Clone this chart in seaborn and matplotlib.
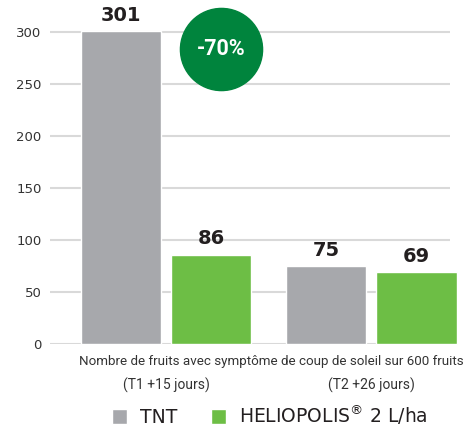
import pandas as pd
import matplotlib.pyplot as plt
import seaborn as sns

periodes = ["(T1 +15 jours)", "(T2 +26 jours)"]
traitements = ["TNT", "HELIOPOLIS$^{®}$ 2 L/ha"]
tnt = [301, 75]
heliopolis = [86, 69]
reduction = "-70%"
titre_x = "Nombre de fruits avec symptôme de coup de soleil sur 600 fruits"

df = pd.DataFrame({
    "periode": periodes * 2,
    "traitement": [traitements[0]] * 2 + [traitements[1]] * 2,
    "valeur": tnt + heliopolis,
})

sns.set_style("white")
plt.rcParams["font.family"] = ["DejaVu Sans"]
plt.rcParams["mathtext.default"] = "regular"
narrow = ["Roboto", "DejaVu Sans"]

fig = plt.figure(figsize=(4.75, 4.30), dpi=100)
ax = fig.add_axes([50 / 475, 86 / 430, 400 / 475, 322.4 / 430])

palette = {traitements[0]: "#a7a8ac", traitements[1]: "#6dbe45"}
sns.barplot(data=df, x="periode", y="valeur", hue="traitement", palette=palette,
            width=0.878, gap=0.11, saturation=1, ax=ax, legend=True, zorder=3)
for p in ax.patches:
    p.set_clip_on(False)

ax.set_xlim(-0.566, 1.383)
ax.set_ylim(0, 310)
ax.set_yticks(range(0, 301, 50))
ax.set_yticklabels([str(v) for v in range(0, 301, 50)], fontsize=9.5, color="#333333")
ax.tick_params(axis="y", length=0, pad=6)
for v in range(0, 301, 50):
    ax.axhline(v, color="#d9d9d9", lw=1.5, zorder=1)
for s in ax.spines.values():
    s.set_visible(False)
ax.set_ylabel("")

# étiquettes de valeur
for cont in ax.containers:
    for bar in cont:
        h = bar.get_height()
        ax.text(bar.get_x() + bar.get_width() / 2, h + 6, f"{int(h)}",
                ha="center", va="bottom", fontsize=14, fontweight="bold",
                color="#231f20", clip_on=False)

# axe x
ax.set_xlabel("")
ax.set_xticks([0, 1])
ax.set_xticklabels(periodes, family=narrow, fontsize=10, color="#333333")
ax.tick_params(axis="x", length=0, pad=24)
ax.text(0.5525, -0.035, titre_x, transform=ax.transAxes, ha="center", va="top",
        family=narrow, fontsize=9.6, color="#333333")

# pastille -70%
ax.scatter([0.268], [283.7], s=3500, color="#00843d", zorder=5, clip_on=False)
ax.text(0.268, 283.7, reduction, ha="center", va="center", color="white",
        fontsize=15.5, fontweight="bold", family=narrow, zorder=6)

# légende
handles, labels = ax.get_legend_handles_labels()
ax.legend(handles, labels, ncol=2, loc="center", bbox_to_anchor=(270 / 475, 15 / 430),
          bbox_transform=fig.transFigure, frameon=False, fontsize=13.5,
          handlelength=0.8, handleheight=0.8, columnspacing=1.8, handletextpad=0.7,
          labelcolor="#231f20")

fig.savefig("out.png", dpi=100)
